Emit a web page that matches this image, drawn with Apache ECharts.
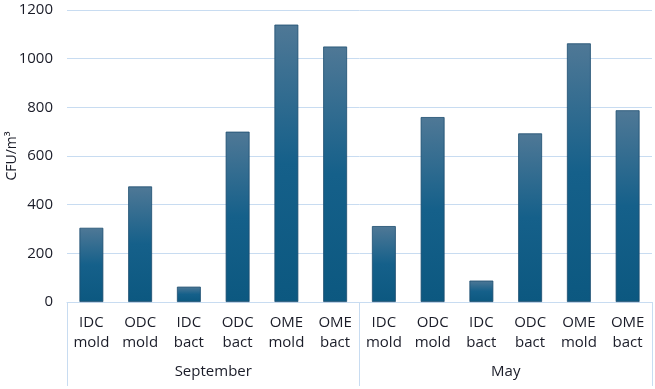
<!DOCTYPE html>
<html>
<head>
<meta charset="utf-8">
<script src="https://cdn.jsdelivr.net/npm/echarts@6/dist/echarts.min.js"></script>
<style>
  html, body { margin: 0; padding: 0; background: #fff; }
  #main { width: 655px; height: 389px; }
</style>
</head>
<body>
<div id="main"></div>
<script>
// data
var sites = ['IDC\nmold', 'ODC\nmold', 'IDC\nbact', 'ODC\nbact', 'OME\nmold', 'OME\nbact'];
var months = ['September', 'May'];
var septValues = [305, 475, 63, 700, 1140, 1050];
var mayValues = [312, 760, 88, 693, 1063, 788];
var yTicks = [0, 200, 400, 600, 800, 1000, 1200];

var categories = [];
months.forEach(function (m) { sites.forEach(function (s) { categories.push(s); }); });
var values = septValues.concat(mayValues);

var lineBlue = '#c8dcf1';
var textCol = '#1a1c28';
var font = 'Open Sans';

var chart = echarts.init(document.getElementById('main'), null, { renderer: 'canvas' });
chart.setOption({
  animation: false,
  grid: {
    left: 67, right: 3, top: 10, bottom: 87,
    containLabel: false, outerBoundsMode: 'none'
  },
  xAxis: [
    {
      type: 'category',
      data: categories,
      axisLine: { show: true, lineStyle: { color: lineBlue, width: 1 } },
      axisTick: { show: false },
      axisLabel: {
        interval: 0, margin: 11, color: textCol, fontFamily: font,
        fontSize: 15, lineHeight: 20
      }
    },
    {
      type: 'category',
      data: months,
      position: 'bottom',
      axisLine: { show: false },
      axisTick: { show: true, length: 84, lineStyle: { color: lineBlue, width: 1 } },
      axisLabel: { margin: 62, color: textCol, fontFamily: font, fontSize: 15 }
    }
  ],
  yAxis: {
    type: 'value',
    min: yTicks[0],
    max: yTicks[yTicks.length - 1],
    interval: 200,
    name: 'CFU/m³',
    nameLocation: 'middle',
    nameGap: 48,
    nameMoveOverlap: false,
    nameTextStyle: { color: textCol, fontFamily: font, fontSize: 14 },
    axisLine: { show: false },
    axisTick: { show: false },
    axisLabel: {
      margin: 14, color: textCol, fontFamily: font, fontSize: 15,
      formatter: function (v) { return String(v); }
    },
    splitLine: { lineStyle: { color: lineBlue, width: 1 } }
  },
  series: [{
    type: 'bar',
    xAxisIndex: 0,
    data: values,
    barWidth: '49%',
    itemStyle: {
      borderColor: '#1c4d6e',
      borderWidth: 0.8,
      color: new echarts.graphic.LinearGradient(0, 0, 0, 1, [
        { offset: 0, color: '#4f7896' },
        { offset: 0.5, color: '#15608a' },
        { offset: 1, color: '#0c5880' }
      ])
    }
  }]
});
</script>
</body>
</html>
